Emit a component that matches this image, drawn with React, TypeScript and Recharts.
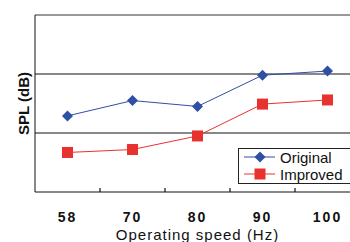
import { Line, LineChart, ReferenceLine, XAxis, YAxis } from 'recharts'

const speeds = ['58', '70', '80', '90', '100']
const original = [72.9, 75.5, 74.5, 79.8, 80.5]
const improved = [66.7, 67.2, 69.5, 74.9, 75.6]
const gridTicks = [70, 80]

const data = speeds.map((s, i) => ({ speed: s, original: original[i], improved: improved[i] }))

const BLUE = '#2f4fa3'
const RED = '#e8322f'
const FONT = '"Liberation Sans", Arial, sans-serif'

const CHART_W = 362
const Y_AXIS_W = 35
const MARGIN_R = 2
const HALF_BAND = (CHART_W - Y_AXIS_W - MARGIN_R) / speeds.length / 2

function Diamond(props: any) {
  const { cx, cy } = props
  if (cx == null || cy == null) return null
  const r = 5.5
  return <path d={`M${cx},${cy - r}L${cx + r},${cy}L${cx},${cy + r}L${cx - r},${cy}Z`} fill={BLUE} />
}

function Square(props: any) {
  const { cx, cy } = props
  if (cx == null || cy == null) return null
  return <rect x={cx - 5.5} y={cy - 5.5} width={11} height={11} fill={RED} />
}

// label at band centre, plus a short inward tick at the band's left edge
function SpeedTick(props: any) {
  const { x, y, payload } = props
  const i = speeds.indexOf(String(payload.value))
  return (
    <g>
      {i > 0 && <path d={`M${x - HALF_BAND},${y - 4}V${y}`} stroke="#111" strokeWidth={1.2} fill="none" />}
      <text x={x} y={y + 30} textAnchor="middle" fill="#111" fontSize={14} fontWeight={700} fontFamily={FONT} letterSpacing={2}>
        {payload.value}
      </text>
    </g>
  )
}

function LegendBox() {
  return (
    <svg width={120} height={36} style={{ position: 'absolute', left: 238, top: 148 }}>
      <rect x={0.5} y={0.5} width={119} height={35} fill="#fff" stroke="#222" />
      <line x1={6} x2={37} y1={9} y2={9} stroke={BLUE} />
      <Diamond cx={22} cy={9} />
      <text x={42} y={14.5} fontSize={15} fill="#111" fontFamily={FONT}>Original</text>
      <line x1={6} x2={37} y1={26} y2={26} stroke={RED} />
      <Square cx={22} cy={26} />
      <text x={42} y={31.5} fontSize={15} fill="#111" fontFamily={FONT}>Improved</text>
    </svg>
  )
}

export default function App() {
  return (
    <div style={{ position: 'absolute', left: 0, top: 0, width: 350, height: 242, overflow: 'hidden', background: '#fff' }}>
      <LineChart width={CHART_W} height={242} data={data} margin={{ top: 15, right: MARGIN_R, bottom: 0, left: 0 }}>
        {gridTicks.map((t) => (
          <ReferenceLine key={t} y={t} stroke="#111" strokeWidth={1} />
        ))}
        <ReferenceLine y={90} stroke="#999" strokeWidth={2} />
        <XAxis
          dataKey="speed"
          type="category"
          scale="band"
          tickLine={false}
          tickSize={0}
          tickMargin={0}
          axisLine={{ stroke: '#111' }}
          height={50}
          tick={<SpeedTick />}
          label={{
            value: 'Operating speed (Hz)',
            content: (p: any) => (
              <text
                x={p.viewBox.x + p.viewBox.width / 2}
                y={240}
                textAnchor="middle"
                fill="#111"
                fontSize={15}
                letterSpacing={1}
                fontFamily={FONT}
              >
                Operating speed (Hz)
              </text>
            ),
          }}
        />
        <YAxis
          type="number"
          domain={[60, 90]}
          ticks={gridTicks}
          tick={false}
          tickLine={false}
          width={Y_AXIS_W}
          axisLine={{ stroke: '#111' }}
          label={{
            value: 'SPL (dB)',
            content: (p: any) => {
              const cx = 23
              const cy = p.viewBox.y + p.viewBox.height / 2
              return (
                <text
                  x={cx}
                  y={cy}
                  transform={`rotate(-90, ${cx}, ${cy})`}
                  textAnchor="middle"
                  dominantBaseline="central"
                  fill="#111"
                  fontSize={15}
                  fontWeight={700}
                  fontFamily={FONT}
                >
                  SPL (dB)
                </text>
              )
            },
          }}
        />
        <Line dataKey="original" name="Original" stroke={BLUE} strokeWidth={1} dot={<Diamond />} activeDot={false} isAnimationActive={false} />
        <Line dataKey="improved" name="Improved" stroke={RED} strokeWidth={1} dot={<Square />} activeDot={false} isAnimationActive={false} />
      </LineChart>
      <LegendBox />
    </div>
  )
}
